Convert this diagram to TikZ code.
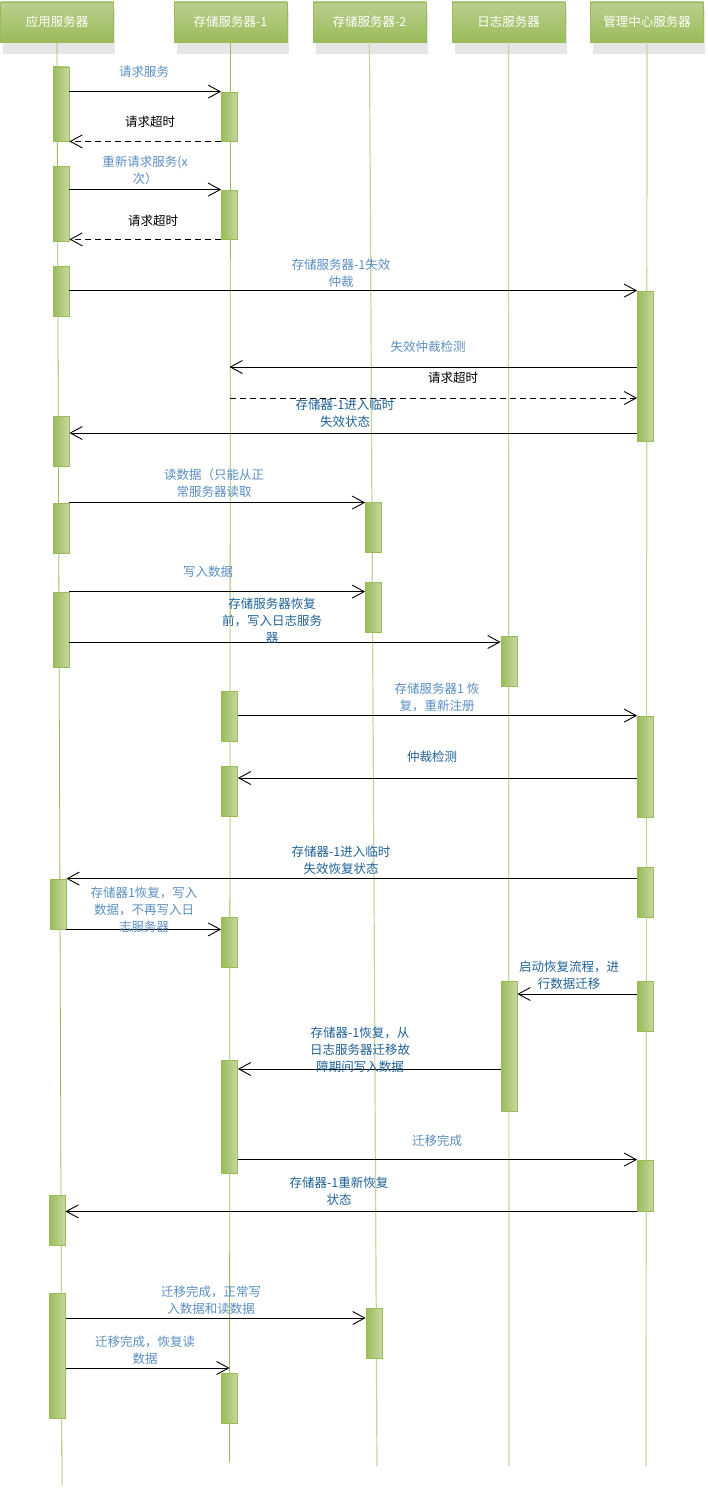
\documentclass[tikz,border=0pt]{standalone}
\usepackage{fontspec}
\setmainfont{Noto Sans CJK SC}
\usetikzlibrary{arrows.meta}
\definecolor{boxtop}{HTML}{B8D08E}
\definecolor{boxbot}{HTML}{9BBB59}
\definecolor{boxedge}{HTML}{9BBB59}
\definecolor{barlight}{HTML}{C6D9A2}
\definecolor{bardark}{HTML}{9BBB59}
\definecolor{lifecol}{HTML}{9BBB59}
\definecolor{lifepale}{HTML}{C3D69B}
\definecolor{shadowgray}{HTML}{E6E6E6}
\definecolor{lblue}{HTML}{5A8EC2}
\definecolor{dblue}{HTML}{1F6196}
\tikzset{
  header/.style={draw=boxedge,top color=boxtop,bottom color=boxbot,minimum width=113pt,minimum height=40pt,text=white,font=\fontsize{12.5}{15}\selectfont},
  act/.style={draw=boxedge,line width=0.8pt,left color=bardark,right color=barlight,minimum width=16pt,inner sep=0pt},
  life/.style={lifecol,line width=0.8pt},
  palelife/.style={lifepale,line width=1.2pt},
  msg/.style={line width=0.9pt,-{Straight Barb[length=12pt,width=13pt]}},
  reply/.style={msg,dash pattern=on 6pt off 4pt},
  lbl/.style={align=center,inner sep=0pt,font=\fontsize{12.5}{17}\selectfont}
}
\begin{document}
\begin{tikzpicture}[x=1pt,y=-1pt]
    \useasboundingbox (0,0) rectangle (707,1488);
    \foreach \x in {57,230.5,369.5,508.5,647}
      \fill[shadowgray] (\x-54,10) rectangle (\x+58,54);
    \node[header] (app) at (57,22) {应用服务器};
    \node[header] (s1) at (230.5,22) {存储服务器-1};
    \node[header] (s2) at (369.5,22) {存储服务器-2};
    \node[header] (log) at (508.5,22) {日志服务器};
    \node[header] (mgr) at (647,22) {管理中心服务器};
    \coordinate (append) at (62,1485);
    \coordinate (s1end) at (229.5,1462);
    \coordinate (s2end) at (377,1466);
    \coordinate (logend) at (509,1466);
    \coordinate (mgrend) at (646,1466);
    \draw[life] (app.south) -- (append);
    \draw[life] (s1.south) -- (s1end);
    \draw[palelife] (s2.south) -- (s2end);
    \draw[palelife] (log.south) -- (logend);
    \draw[palelife] (mgr.south) -- (mgrend);
    \node[act,minimum height=74pt] (ab1) at (61,104) {};
    \node[act,minimum height=75pt] (ab2) at (61,203.5) {};
    \node[act,minimum height=50pt] (ab3) at (61,291) {};
    \node[act,minimum height=50pt] (ab4) at (61,441) {};
    \node[act,minimum height=50pt] (ab5) at (61,528) {};
    \node[act,minimum height=75pt] (ab6) at (61,629.5) {};
    \node[act,minimum height=50pt] (ab7) at (58,904) {};
    \node[act,minimum height=50pt] (ab8) at (57,1220) {};
    \node[act,minimum height=125pt] (ab9) at (57.5,1355.5) {};
    \node[act,minimum height=49pt] (sb1) at (229.5,116.5) {};
    \node[act,minimum height=49pt] (sb2) at (229.5,214.5) {};
    \node[act,minimum height=50pt] (sb3) at (229.5,716.5) {};
    \node[act,minimum height=50pt] (sb4) at (229.5,791.5) {};
    \node[act,minimum height=50pt] (sb5) at (229.5,942) {};
    \node[act,minimum height=113pt] (sb6) at (229.5,1116.5) {};
    \node[act,minimum height=50pt] (sb7) at (229.5,1398) {};
    \node[act,minimum height=50pt] (tb1) at (373.5,527) {};
    \node[act,minimum height=50pt] (tb2) at (373.5,607) {};
    \node[act,minimum height=50pt] (tb3) at (374,1333) {};
    \node[act,minimum height=50pt] (lb1) at (509,661) {};
    \node[act,minimum height=130pt] (lb2) at (509,1046) {};
    \node[act,minimum height=150pt] (mb1) at (645.5,366) {};
    \node[act,minimum height=101pt] (mb2) at (645.5,766.5) {};
    \node[act,minimum height=50pt] (mb3) at (645.5,892) {};
    \node[act,minimum height=50pt] (mb4) at (645.5,1006) {};
    \node[act,minimum height=51pt] (mb5) at (645.5,1185.5) {};
    \coordinate (chk) at (229.5,367);
    \coordinate (tmo) at (229.5,398);
    \draw[msg] (ab1.east |- sb1.north) -- (sb1.north west);
    \draw[reply] (sb1.south west) -- (ab1.south east);
    \draw[msg] (ab2.east |- sb2.north) -- (sb2.north west);
    \draw[reply] (sb2.south west) -- (ab2.east |- sb2.south);
    \draw[msg] (ab3.east |- mb1.north) -- (mb1.north west);
    \draw[msg] (mb1.west |- chk) -- (chk);
    \draw[reply] (tmo) -- (mb1.west |- tmo);
    \draw[msg] (mb1.west |- 0,433) -- (ab4.east |- 0,433);
    \draw[msg] (ab5.north east) -- (tb1.west |- ab5.north);
    \draw[msg] (ab6.north east) -- (tb2.west |- ab6.north);
    \draw[msg] (ab6.east |- 0,642) -- (lb1.west |- 0,642);
    \draw[msg] (sb3.east |- mb2.north) -- (mb2.north west);
    \draw[msg] (mb2.west |- 0,778) -- (sb4.east |- 0,778);
    \draw[msg] (mb3.west |- ab7.north) -- (ab7.north east);
    \draw[msg] (ab7.south east) -- (sb5.west |- ab7.south);
    \draw[msg] (mb4.west |- 0,994) -- (lb2.east |- 0,994);
    \draw[msg] (lb2.west |- 0,1069) -- (sb6.east |- 0,1069);
    \draw[msg] (sb6.east |- mb5.north) -- (mb5.north west);
    \draw[msg] (mb5.south west) -- (ab8.east |- mb5.south);
    \draw[msg] (ab9.east |- 0,1318) -- (tb3.west |- 0,1318);
    \draw[msg] (ab9.east |- 0,1368) -- (sb7.north |- 0,1368);
    \node[lbl,lblue] (l1) at (144,72) {请求服务};
    \node[lbl] (l2) at (150,122) {请求超时};
    \node[lbl,lblue] (l3) at (145,170) {重新请求服务(x\\次）};
    \node[lbl] (l4) at (153,221) {请求超时};
    \node[lbl,lblue] (l5) at (341,273) {存储服务器-1失效\\仲裁};
    \node[lbl,lblue] (l6) at (428,347) {失效仲裁检测};
    \node[lbl] (l7) at (453,378) {请求超时};
    \node[lbl,dblue] (l8) at (345,413) {存储器-1进入临时\\失效状态};
    \node[lbl,lblue] (l9) at (214,483) {读数据（只能从正\\常服务器读取};
    \node[lbl,lblue] (l10) at (208,572) {写入数据};
    \node[lbl,dblue] (l11) at (272,621) {存储服务器恢复\\前，写入日志服务\\器};
    \node[lbl,lblue] (l12) at (437,697) {存储服务器1 恢\\复，重新注册};
    \node[lbl,dblue] (l13) at (432,757) {仲裁检测};
    \node[lbl,dblue] (l14) at (341,860) {存储器-1进入临时\\失效恢复状态};
    \node[lbl,lblue] (l15) at (144,910) {存储器1恢复，写入\\数据，不再写入日\\志服务器};
    \node[lbl,dblue] (l16) at (569,975) {启动恢复流程，进\\行数据迁移};
    \node[lbl,dblue] (l17) at (360,1050) {存储器-1恢复，从\\日志服务器迁移故\\障期间写入数据};
    \node[lbl,lblue] (l18) at (437,1141) {迁移完成};
    \node[lbl,dblue] (l19) at (339,1191) {存储器-1重新恢复\\状态};
    \node[lbl,lblue] (l20) at (211,1300) {迁移完成，正常写\\入数据和读数据};
    \node[lbl,lblue] (l21) at (145,1350) {迁移完成，恢复读\\数据};
\end{tikzpicture}
\end{document}
